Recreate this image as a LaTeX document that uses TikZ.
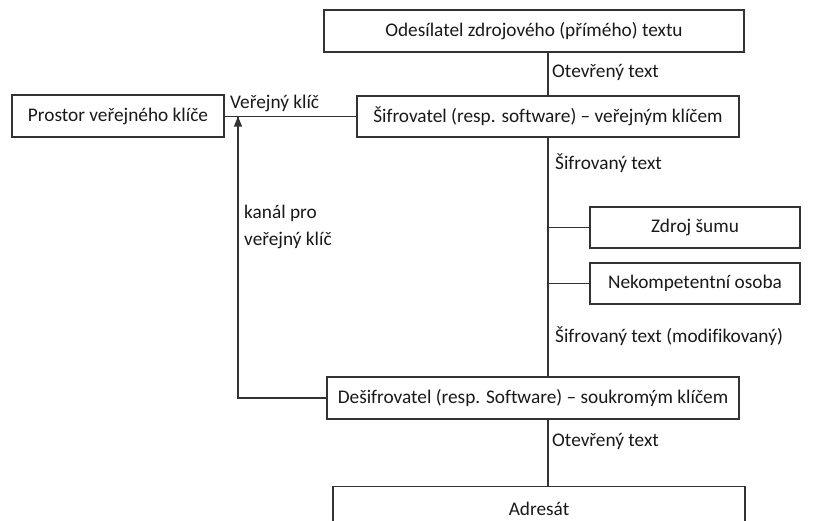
\documentclass[tikz,border=0pt]{standalone}
\usepackage{fontspec}
\setmainfont{Carlito}[Ligatures=NoCommon]
\usetikzlibrary{arrows.meta}
\begin{document}
\begin{tikzpicture}[x=1pt,y=-1pt,
  every node/.style={font=\fontsize{19.3}{22}\selectfont, text=black!90},
  box/.style={draw=black!80, line width=1.3pt, inner sep=0pt},
  conn/.style={draw=black!80, line width=1.2pt},
  lab/.style={anchor=west, inner sep=0pt}]
\useasboundingbox (0,0) rectangle (827,520);
\begin{scope}
\clip (0,0) rectangle (827,520);
% boxes
\node[box, minimum width=420pt, minimum height=42pt] (odes) at (534,31) {Odesílatel zdrojového (přímého) textu};
\node[box, minimum width=382pt, minimum height=41pt] (sifr) at (548,116.5) {Šifrovatel (resp. software) – veřejným klíčem};
\node[box, minimum width=212pt, minimum height=42pt] (prost) at (118,116) {Prostor veřejného klíče};
\node[box, minimum width=210pt, minimum height=41pt] (zdroj) at (695,227.5) {Zdroj šumu};
\node[box, minimum width=210pt, minimum height=41pt] (nekom) at (695,283.5) {Nekompetentní osoba};
\node[box, minimum width=412pt, minimum height=42pt] (desif) at (533,398) {Dešifrovatel (resp. Software) – soukromým klíčem};
\node[box, minimum width=412pt, minimum height=60pt, anchor=north] (adr) at (539,486) {};
\node (adrt) at (539,509) {Adresát};
% coordinates
\coordinate (ms) at (548,137);
\coordinate (md) at (548,377);
\coordinate (b1) at (548,227.5);
\coordinate (b2) at (548,283.5);
\coordinate (ka) at (238,116.5);
\coordinate (kb) at (238,398);
\coordinate (od) at (548,419);
\coordinate (oa) at (548,486);
% connectors
\draw[conn] (odes.south -| ms) -- (sifr.north -| ms);
\draw[conn] (prost.east |- sifr.west) -- (sifr.west);
\draw[conn] (ms) -- (md);
\draw[conn] (b1) -- (zdroj.west);
\draw[conn] (b2) -- (nekom.west);
\draw[conn] (desif.west) -- (kb) -- (ka);
\draw[conn, -{Triangle[length=10pt,width=8pt]}] (kb) -- (ka);
\draw[conn] (od) -- (oa);
% labels
\node[lab] (l1) at (552,72) {Otevřený text};
\node[lab] (l2) at (230,103) {Veřejný klíč};
\node[lab] (l3) at (555,163) {Šifrovaný text};
\node[lab] (l4) at (244,213) {kanál pro};
\node[lab] (l5) at (244,240) {veřejný klíč};
\node[lab] (l6) at (555,336) {Šifrovaný text (modifikovaný)};
\node[lab] (l7) at (552,441) {Otevřený text};
\end{scope}
\end{tikzpicture}
\end{document}
